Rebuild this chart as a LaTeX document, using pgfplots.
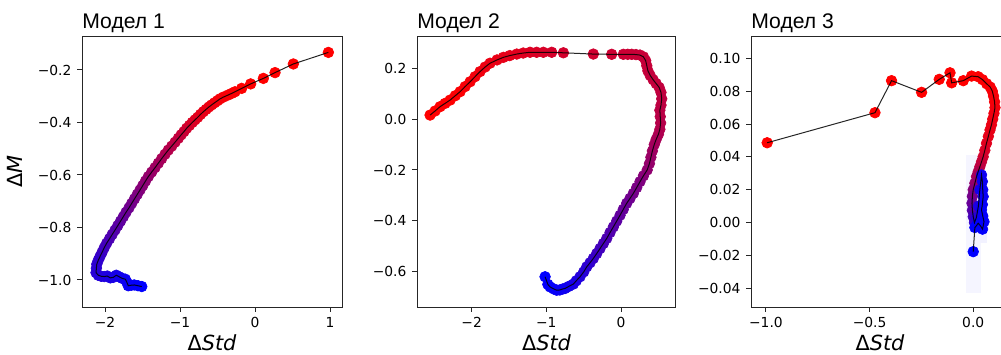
\documentclass[border=0pt]{standalone}
\usepackage{fontspec}
\setmainfont{DejaVu Sans}
\newfontfamily\titlefont{Liberation Sans}
\usepackage{pgfplots}
\pgfplotsset{compat=1.18}
\usepackage{pgfplotstable}

\pgfplotstableread{
x y c
0.978 -0.133 1.0
0.511 -0.177 1.0
0.267 -0.210 1.0
0.111 -0.232 1.0
-0.058 -0.253 0.99
-0.178 -0.270 0.99
-0.267 -0.283 0.98
-0.31 -0.289 0.98
-0.356 -0.295 0.97
-0.42 -0.303 0.97
-0.467 -0.310 0.96
-0.50 -0.317 0.96
-0.54 -0.325 0.95
-0.578 -0.333 0.94
-0.615 -0.341 0.93
-0.652 -0.350 0.92
-0.689 -0.359 0.91
-0.726 -0.369 0.90
-0.763 -0.380 0.89
-0.80 -0.390 0.88
-0.837 -0.400 0.86
-0.874 -0.411 0.84
-0.911 -0.422 0.82
-0.948 -0.435 0.80
-0.985 -0.447 0.78
-1.022 -0.460 0.76
-1.066 -0.475 0.74
-1.11 -0.490 0.72
-1.156 -0.505 0.70
-1.20 -0.521 0.68
-1.245 -0.538 0.66
-1.289 -0.555 0.64
-1.333 -0.572 0.62
-1.378 -0.589 0.60
-1.422 -0.606 0.58
-1.46 -0.623 0.56
-1.496 -0.640 0.54
-1.533 -0.657 0.52
-1.57 -0.674 0.50
-1.607 -0.691 0.48
-1.644 -0.708 0.46
-1.68 -0.725 0.44
-1.72 -0.742 0.42
-1.756 -0.759 0.40
-1.793 -0.776 0.38
-1.83 -0.793 0.36
-1.867 -0.810 0.34
-1.905 -0.827 0.32
-1.94 -0.843 0.30
-1.978 -0.860 0.28
-2.01 -0.877 0.26
-2.04 -0.895 0.24
-2.067 -0.911 0.22
-2.09 -0.925 0.20
-2.11 -0.940 0.18
-2.115 -0.955 0.17
-2.12 -0.972 0.16
-2.09 -0.982 0.15
-2.05 -0.986 0.14
-2.01 -0.987 0.13
-1.97 -0.985 0.12
-1.93 -0.992 0.11
-1.89 -0.990 0.10
-1.85 -0.982 0.09
-1.81 -0.988 0.08
-1.77 -0.994 0.07
-1.73 -0.997 0.06
-1.71 -1.008 0.05
-1.69 -1.022 0.04
-1.65 -1.020 0.03
-1.61 -1.019 0.02
-1.56 -1.022 0.01
-1.51 -1.025 0.00
}\tabA

\pgfplotstableread{
x y c
-2.557 0.016 1.0
-2.49 0.032 1.0
-2.423 0.049 1.0
-2.356 0.062 0.99
-2.289 0.075 0.99
-2.22 0.092 0.98
-2.155 0.108 0.98
-2.088 0.128 0.97
-2.021 0.147 0.96
-1.955 0.167 0.95
-1.888 0.187 0.94
-1.82 0.205 0.93
-1.754 0.220 0.92
-1.66 0.233 0.91
-1.576 0.243 0.90
-1.49 0.250 0.89
-1.396 0.256 0.88
-1.31 0.260 0.87
-1.218 0.263 0.86
-1.13 0.263 0.85
-1.04 0.263 0.84
-0.928 0.263 0.83
-0.772 0.261 0.82
-0.371 0.256 0.81
-0.125 0.255 0.80
0.031 0.255 0.79
0.09 0.255 0.79
0.143 0.255 0.79
0.20 0.254 0.78
0.254 0.252 0.78
0.30 0.245 0.78
0.33 0.230 0.77
0.345 0.210 0.77
0.36 0.190 0.77
0.39 0.172 0.76
0.43 0.155 0.76
0.47 0.140 0.76
0.51 0.125 0.75
0.535 0.105 0.75
0.545 0.080 0.74
0.535 0.055 0.74
0.52 0.035 0.73
0.525 0.010 0.72
0.53 -0.015 0.71
0.52 -0.040 0.70
0.50 -0.060 0.68
0.47 -0.080 0.66
0.445 -0.100 0.64
0.42 -0.125 0.62
0.40 -0.150 0.60
0.38 -0.175 0.58
0.35 -0.200 0.56
0.30 -0.223 0.53
0.254 -0.246 0.50
0.21 -0.269 0.48
0.165 -0.292 0.46
0.12 -0.312 0.44
0.076 -0.331 0.42
0.03 -0.355 0.40
-0.013 -0.378 0.38
-0.058 -0.401 0.36
-0.103 -0.424 0.34
-0.147 -0.446 0.32
-0.191 -0.469 0.30
-0.236 -0.489 0.28
-0.281 -0.509 0.26
-0.326 -0.529 0.24
-0.371 -0.548 0.22
-0.415 -0.565 0.20
-0.459 -0.581 0.18
-0.50 -0.601 0.16
-0.549 -0.620 0.14
-0.60 -0.636 0.12
-0.639 -0.649 0.10
-0.70 -0.658 0.08
-0.75 -0.666 0.07
-0.78 -0.668 0.06
-0.82 -0.672 0.05
-0.861 -0.673 0.04
-0.90 -0.668 0.03
-0.95 -0.660 0.02
-0.98 -0.650 0.01
-1.017 -0.620 0.00
}\tabB

\pgfplotstableread{
x y c
-0.994 0.0486 1.0
-0.474 0.0669 1.0
-0.394 0.0864 1.0
-0.249 0.0793 1.0
-0.164 0.0872 1.0
-0.112 0.0912 1.0
-0.104 0.0851 1.0
-0.048 0.0864 1.0
-0.008 0.0892 0.99
0.024 0.0888 0.99
0.045 0.0870 0.98
0.065 0.0845 0.98
0.082 0.0825 0.97
0.092 0.0800 0.97
0.098 0.0770 0.96
0.103 0.0735 0.96
0.105 0.0700 0.95
0.100 0.0665 0.94
0.094 0.0630 0.93
0.088 0.0595 0.92
0.081 0.0564 0.91
0.073 0.0525 0.90
0.064 0.0483 0.88
0.056 0.0440 0.85
0.048 0.0401 0.82
0.040 0.0370 0.78
0.032 0.0340 0.74
0.024 0.0310 0.69
0.016 0.0280 0.64
0.008 0.0240 0.58
0.000 0.0200 0.52
-0.004 0.0160 0.46
-0.006 0.0118 0.40
-0.004 0.0075 0.34
0.000 0.0036 0.27
0.006 0.0000 0.20
0.015 0.0030 0.15
0.025 0.0100 0.11
0.032 0.0200 0.08
0.040 0.0290 0.06
0.044 0.0250 0.05
0.046 0.0200 0.04
0.048 0.0158 0.035
0.044 0.0110 0.03
0.040 0.0077 0.025
0.046 0.0040 0.02
0.052 0.0005 0.015
0.045 -0.0040 0.01
0.035 -0.0020 0.008
0.024 -0.0004 0.005
0.015 -0.0020 0.003
0.008 -0.0030 0.0
0.000 -0.0177 0.0
}\tabC

\pgfplotsset{
  panel/.style={
    scale only axis, height=162.6pt, anchor=south west,
    clip mode=individual, clip marker paths=true,
    axis line style={line width=0.6pt, black!85},
    tick align=outside, major tick length=2.8pt,
    tick style={line width=0.6pt, black!85},
    xtick pos=bottom, ytick pos=left,
    tick label style={font=\fontsize{8.3}{10}\selectfont},
    colormap={br}{rgb255=(0,0,255) rgb255=(255,0,0)},
    point meta min=0, point meta max=1,
    every axis title/.style={at={(axis description cs:0,1.0284)}, anchor=base west,
      font=\titlefont\fontsize{12.7}{15}\selectfont, inner sep=0pt},
    xlabel style={at={(axis description cs:0.5,-0.1587)}, anchor=base,
      font=\fontsize{12.5}{15}\selectfont, inner sep=0pt},
    ylabel style={at={(axis description cs:-0.227,0.5)}, anchor=base,
      font=\fontsize{12.5}{15}\selectfont, inner sep=0pt},
  },
  dots/.style={scatter, only marks, mark=*, mark size=3.2pt,
    point meta=explicit,
    scatter/use mapped color={draw=mapped color, fill=mapped color}},
  trail/.style={no marks, line width=0.6pt, black, opacity=0.85},
}

\begin{document}
\begin{tikzpicture}
\useasboundingbox (0,0) rectangle (600.6pt,212.4pt);

\begin{axis}[panel, at={(49.2pt,28.2pt)}, width=156pt,
  xmin=-2.307, xmax=1.16, ymin=-1.103, ymax=-0.0705,
  xtick={-2,-1,0,1}, xticklabels={−2,−1,0,1},
  ytick={-1,-0.8,-0.6,-0.4,-0.2}, yticklabels={−1.0,−0.8,−0.6,−0.4,−0.2},
  title={Модел 1}, xlabel={Δ\textit{Std}}, ylabel={Δ\textit{M}}]
\addplot[dots] table[x=x,y=y,meta=c]{\tabA};
\addplot[trail] table[x=x,y=y]{\tabA};
\end{axis}

\begin{axis}[panel, at={(250.2pt,28.2pt)}, width=155.4pt,
  xmin=-2.732, xmax=0.736, ymin=-0.739, ymax=0.327,
  xtick={-2,-1,0}, xticklabels={−2,−1,0},
  ytick={-0.6,-0.4,-0.2,0,0.2}, yticklabels={−0.6,−0.4,−0.2,0.0,0.2},
  title={Модел 2}, xlabel={Δ\textit{Std}}]
\addplot[dots] table[x=x,y=y,meta=c]{\tabB};
\addplot[trail] table[x=x,y=y]{\tabB};
\end{axis}

\begin{axis}[panel, at={(450.6pt,28.2pt)}, width=150pt,
  axis x line*=bottom, axis y line*=left,
  xmin=-1.072, xmax=0.134, ymin=-0.0514, ymax=0.1136,
  xtick={-1,-0.5,0}, xticklabels={−1.0,−0.5,0.0},
  ytick={-0.04,-0.02,0,0.02,0.04,0.06,0.08,0.1},
  yticklabels={−0.04,−0.02,0.00,0.02,0.04,0.06,0.08,0.10},
  title={Модел 3}, xlabel={Δ\textit{Std}},
  xlabel style={at={(axis description cs:0.516,-0.1587)}}]
\addplot[fill=blue!4, draw=none] coordinates {(-0.035,-0.043) (0.036,-0.043) (0.036,0.041) (-0.035,0.041)} -- cycle;
\addplot[fill=blue!5, draw=none] coordinates {(0.032,-0.0126) (0.066,-0.0126) (0.066,0.0306) (0.032,0.0306)} -- cycle;
\addplot[dots] table[x=x,y=y,meta=c]{\tabC};
\addplot[trail] table[x=x,y=y]{\tabC};
\draw[line width=0.6pt, black!85] (rel axis cs:0,1) -- (rel axis cs:1.05,1);
\end{axis}
\end{tikzpicture}
\end{document}
